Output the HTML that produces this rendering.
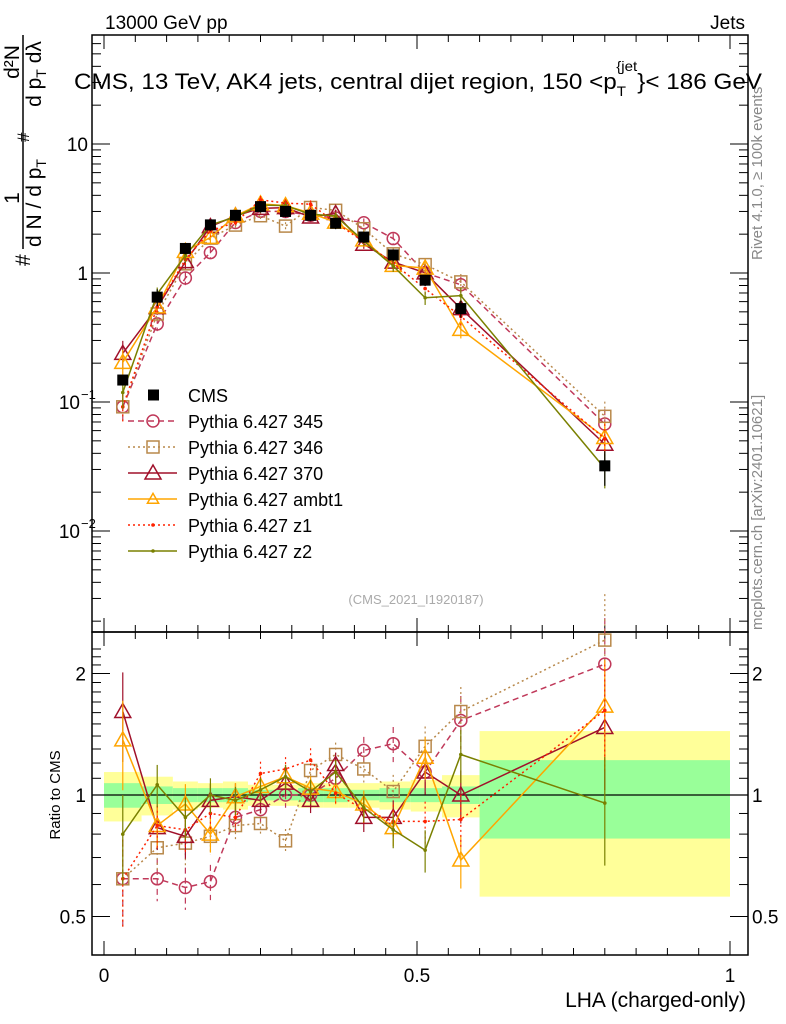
<!DOCTYPE html>
<html><head><meta charset="utf-8"><style>
body{margin:0;background:#fff}
svg{display:block;font-family:"Liberation Sans",sans-serif}
</style></head><body>
<svg id="chart" width="786" height="1024" viewBox="0 0 786 1024" xmlns="http://www.w3.org/2000/svg">
<g id="bands"></g>
<g id="frame"></g>
<g id="marks"></g>
<g id="labels">
<text x="105" y="29" font-size="19">13000 GeV pp</text>
<text x="745" y="29" font-size="19" text-anchor="end">Jets</text>
<text x="74" y="89" font-size="22.5" textLength="688" lengthAdjust="spacingAndGlyphs">CMS, 13 TeV, AK4 jets, central dijet region, 150 &lt;p<tspan font-size="14" dy="7">T</tspan><tspan font-size="14" dx="-9" dy="-25">{jet</tspan><tspan dy="18">}&lt; 186 GeV</tspan></text>
<text transform="translate(762,260) rotate(-90)" font-size="15" fill="#888">Rivet 4.1.0, ≥ 100k events</text>
<text transform="translate(762,630) rotate(-90)" font-size="15" fill="#888">mcplots.cern.ch [arXiv:2401.10621]</text>
<text x="416" y="604" font-size="13" fill="#aaa" text-anchor="middle">(CMS_2021_I1920187)</text>
<text transform="translate(60,795) rotate(-90)" font-size="15" text-anchor="middle">Ratio to CMS</text>
<text x="746" y="1007" font-size="21" text-anchor="end">LHA (charged-only)</text>
<g font-size="21">
<text transform="translate(30,266) rotate(-90)">#</text>
<text transform="translate(19,198) rotate(-90)" text-anchor="middle">1</text>
<line x1="23" y1="249" x2="23" y2="35" stroke="#000" stroke-width="1.5"/>
<text transform="translate(41,203) rotate(-90)" text-anchor="middle">d N / d p<tspan font-size="14" dy="5">T</tspan></text>
<text transform="translate(29,142) rotate(-90)" font-size="17">#</text>
<text transform="translate(19,62) rotate(-90)" text-anchor="middle">d²N</text>
<text transform="translate(41,74) rotate(-90)" text-anchor="middle">d p<tspan font-size="14" dy="5">T</tspan><tspan dy="-5"> dλ</tspan></text>
</g>
</g>
<g id="legend"></g>
</svg>
<script>
const xCenters=[0.03,0.085,0.13,0.17,0.21,0.25,0.29,0.33,0.37,0.415,0.462,0.513,0.57,0.8];
const binEdges=[0,0.06,0.11,0.15,0.19,0.23,0.27,0.31,0.35,0.39,0.44,0.49,0.54,0.6,1.0];
const cmsValues=[0.148,0.65,1.55,2.36,2.8,3.27,3.0,2.8,2.43,1.9,1.38,0.88,0.53,0.032];
const cmsErr=[0.04,0.15,0.1,0.1,0.1,0.1,0.1,0.1,0.1,0.1,0.1,0.1,0.15,0.3];
const bandGreen=[0.07,0.05,0.04,0.04,0.04,0.03,0.03,0.04,0.04,0.03,0.04,0.04,0.05,0.22];
const bandYellow=[0.14,0.11,0.08,0.07,0.08,0.06,0.06,0.07,0.07,0.07,0.08,0.09,0.12,0.44];
const ratio345=[0.62,0.62,0.59,0.61,0.88,0.92,1.0,1.0,1.1,1.29,1.34,1.14,1.53,2.11];
const ratio346=[0.62,0.74,0.76,0.79,0.84,0.85,0.77,1.15,1.26,1.16,1.02,1.32,1.61,2.42];
const ratio370=[1.61,0.83,0.79,0.97,0.99,0.97,1.07,0.97,1.19,0.88,0.88,1.14,1.0,1.47];
const ratioAmbt1=[1.37,0.84,0.95,0.80,0.99,1.05,1.11,1.04,1.02,0.95,0.83,1.24,0.69,1.66];
const ratioZ1=[0.62,0.84,0.82,0.90,0.88,1.13,1.16,1.22,1.01,0.92,0.86,0.86,0.87,1.62];
const ratioZ2=[0.80,1.06,0.88,1.0,0.97,1.03,1.11,1.02,1.14,0.93,0.82,0.73,1.26,0.955];
const seriesNames=["Pythia 6.427 345","Pythia 6.427 346","Pythia 6.427 370","Pythia 6.427 ambt1","Pythia 6.427 z1","Pythia 6.427 z2"];
const modelErr=[0.25,0.12,0.12,0.1,0.08,0.07,0.07,0.07,0.07,0.08,0.1,0.12,0.15,0.3];

const NS="http://www.w3.org/2000/svg";
const X0=92,X1=748,TOP=35,MID=632,BOT=955;
const xs=v=>104+626*v;
const ysTop=v=>273-129*Math.log10(v);
const ysR=r=>795-121.5*Math.log2(r);
function mk(tag,parent,attrs){const e=document.createElementNS(NS,tag);for(const k in attrs)e.setAttribute(k,attrs[k]);parent.appendChild(e);return e;}
const bands=document.getElementById('bands'),frame=document.getElementById('frame'),marks=document.getElementById('marks'),legend=document.getElementById('legend');

for(let i=0;i<xCenters.length;i++){
  const a=xs(binEdges[i]),b=xs(binEdges[i+1]);
  const yb=mk('rect',bands,{x:a,y:ysR(1+bandYellow[i]),width:b-a,height:ysR(1-bandYellow[i])-ysR(1+bandYellow[i]),fill:'#ffff99'});
  
  
  const gb=mk('rect',bands,{x:a,y:ysR(1+bandGreen[i]),width:b-a,height:ysR(1-bandGreen[i])-ysR(1+bandGreen[i]),fill:'#99ff99'});
  
  
}
mk('rect',frame,{x:X0,y:TOP,width:X1-X0,height:MID-TOP,fill:'none',stroke:'#000','stroke-width':1.5});
mk('rect',frame,{x:X0,y:MID,width:X1-X0,height:BOT-MID,fill:'none',stroke:'#000','stroke-width':1.5});
mk('line',frame,{x1:X0,x2:X1,y1:ysR(1),y2:ysR(1),stroke:'#000','stroke-width':1.2});
for(let k=0;k<=20;k++){const v=k*0.05,x=xs(v),L=(k%10==0)?14:7;
  for(const [yb,yt] of [[MID,TOP],[BOT,MID]]){mk('line',frame,{x1:x,x2:x,y1:yb,y2:yb-L,stroke:'#000'});mk('line',frame,{x1:x,x2:x,y1:yt,y2:yt+L,stroke:'#000'});}
}
const xtl=[["0",0],["0.5",0.5],["1",1]];
xtl.forEach(([t,v])=>{const e=mk('text',frame,{x:xs(v),y:982,'font-size':19,'text-anchor':'middle'});e.textContent=t;
  
  });
for(let d=-3;d<=1;d++)for(let m=1;m<10;m++){const v=m*Math.pow(10,d),y=ysTop(v);if(y<TOP||y>MID)continue;const L=m==1?18:9;
  mk('line',frame,{x1:X0,x2:X0+L,y1:y,y2:y,stroke:'#000'});mk('line',frame,{x1:X1,x2:X1-L,y1:y,y2:y,stroke:'#000'});}
const ytl=[[10,"10",""],[1,"1",""],[0.1,"10","−1"],[0.01,"10","−2"]];
ytl.forEach(([v,b,ex])=>{const e=mk('text',frame,{x:ex?80:88,y:ysTop(v)+7,'font-size':19,'text-anchor':'end'});e.textContent=b;
  
  
  if(ex){const s=mk('text',frame,{x:81,y:ysTop(v)-3,'font-size':13});s.textContent=ex;}});
for(let r=0.4;r<=2.31;r+=0.1){const y=ysR(r);if(y<MID||y>BOT)continue;const big=Math.abs(r-0.5)<1e-6||Math.abs(r-1)<1e-6||Math.abs(r-2)<1e-6;const L=big?18:9;
  mk('line',frame,{x1:X0,x2:X0+L,y1:y,y2:y,stroke:'#000'});mk('line',frame,{x1:X1,x2:X1-L,y1:y,y2:y,stroke:'#000'});}
[["2",2],["1",1],["0.5",0.5]].forEach(([t,v])=>{for(const [x,a] of [[86,'end'],[752,'start']]){const e=mk('text',frame,{x:x,y:ysR(v)+7,'font-size':19,'text-anchor':a});e.textContent=t;
  
  }});

const styles=[
 {c:'#c0395a',dash:'6,4',m:'circle'},
 {c:'#b8884a',dash:'2,3',m:'square'},
 {c:'#a0102a',dash:'',m:'tri'},
 {c:'#ffa500',dash:'',m:'tri'},
 {c:'#ff2200',dash:'2,3',m:'dot'},
 {c:'#7a8000',dash:'',m:'dot'}];
const ratios=[ratio345,ratio346,ratio370,ratioAmbt1,ratioZ1,ratioZ2];
function marker(g,x,y,st,small){const c=st.c,s=small?0.7:1;
  if(st.m=='circle')mk('circle',g,{cx:x,cy:y,r:6*s,fill:'none',stroke:c,'stroke-width':1.5});
  else if(st.m=='square')mk('rect',g,{x:x-6*s,y:y-6*s,width:12*s,height:12*s,fill:'none',stroke:c,'stroke-width':1.5});
  else if(st.m=='tri')mk('polygon',g,{points:`${x},${y-8*s} ${x-8*s},${y+6*s} ${x+8*s},${y+6*s}`,fill:'none',stroke:c,'stroke-width':1.5});
  else mk('circle',g,{cx:x,cy:y,r:1.8,fill:c});}
ratios.forEach((rr,si)=>{const st=styles[si];
  const g=mk('g',marks,{});
  
  
  const vals=rr.map((r,i)=>r*cmsValues[i]);
  const pTop=xCenters.map((x,i)=>xs(x)+','+ysTop(vals[i])).join(' ');
  const pR=xCenters.map((x,i)=>xs(x)+','+ysR(rr[i])).join(' ');
  mk('polyline',g,{points:pTop,fill:'none',stroke:st.c,'stroke-width':1.5,'stroke-dasharray':st.dash});
  mk('polyline',g,{points:pR,fill:'none',stroke:st.c,'stroke-width':1.5,'stroke-dasharray':st.dash});
  xCenters.forEach((xv,i)=>{const x=xs(xv),e=modelErr[i];
    mk('line',g,{x1:x,x2:x,y1:ysTop(vals[i]*(1+e)),y2:ysTop(vals[i]*(1-e)),stroke:st.c,'stroke-width':1.2,'stroke-dasharray':st.dash});
    mk('line',g,{x1:x,x2:x,y1:ysR(rr[i]*(1+e)),y2:ysR(Math.max(0.3,rr[i]*(1-e))),stroke:st.c,'stroke-width':1.2,'stroke-dasharray':st.dash});
    const pt=mk('g',g,{});
    
    
    marker(pt,x,ysTop(vals[i]),st);marker(pt,x,ysR(rr[i]),st);});
});
const cg=mk('g',marks,{});


xCenters.forEach((xv,i)=>{const x=xs(xv),y=ysTop(cmsValues[i]);
  mk('line',cg,{x1:x,x2:x,y1:ysTop(cmsValues[i]*(1+cmsErr[i])),y2:ysTop(cmsValues[i]*(1-cmsErr[i])),stroke:'#000','stroke-width':1.2});
  const s=mk('rect',cg,{x:x-5.5,y:y-5.5,width:11,height:11,fill:'#000'});
  
  });
const ly0=395,ldy=26;
const l0=mk('g',legend,{});


mk('rect',l0,{x:148,y:ly0-5.5,width:11,height:11,fill:'#000'});
const t0=mk('text',l0,{x:188,y:ly0+7,'font-size':18});t0.textContent='CMS';
seriesNames.forEach((n,i)=>{const y=ly0+ldy*(i+1),st=styles[i];
  const g=mk('g',legend,{});
  
  
  mk('line',g,{x1:128,x2:177,y1:y,y2:y,stroke:st.c,'stroke-width':1.5,'stroke-dasharray':st.dash});
  marker(g,153,y,st,i==3);
  const t=mk('text',g,{x:188,y:y+7,'font-size':18});t.textContent=n;});
</script>
</body></html>
